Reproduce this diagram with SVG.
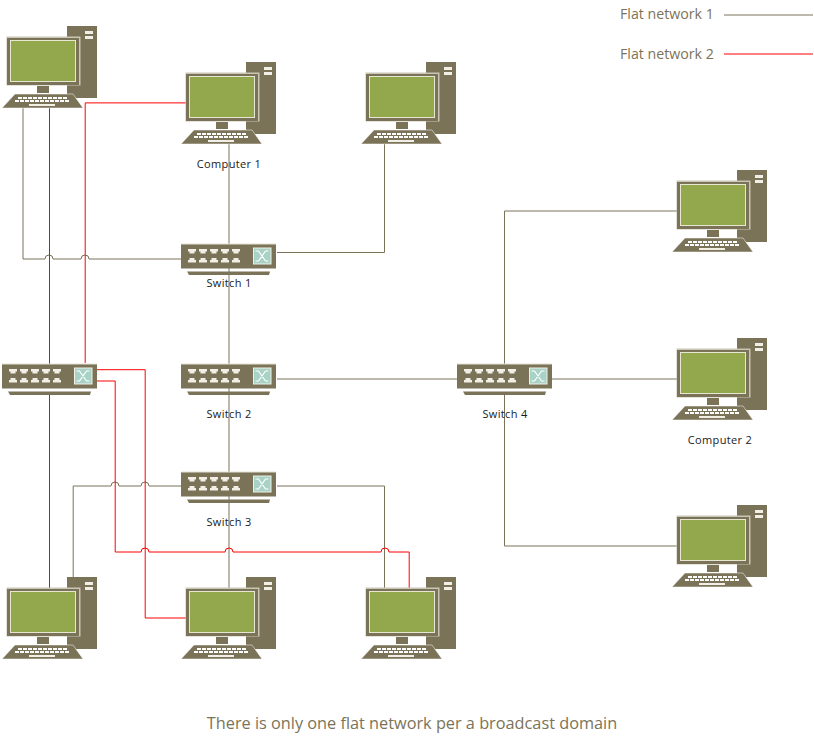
<svg xmlns="http://www.w3.org/2000/svg" xmlns:xlink="http://www.w3.org/1999/xlink" width="814" height="745" viewBox="0 0 814 745">
<style>
.g{fill:none;stroke:#7b7358;stroke-width:1}
.r{fill:none;stroke:#ff0000;stroke-width:1}
.b{fill:#7b7358}
.w{fill:#f2f0e6}
.lbl{font-family:"Open Sans","Noto Sans",sans-serif;font-size:11px;letter-spacing:.35px;fill:#1a1a1a;text-anchor:middle}
.leg{font-family:"Open Sans","Noto Sans",sans-serif;font-size:14.200px;fill:#7b7358}
.cap{font-family:"Open Sans","Noto Sans",sans-serif;font-size:16.300px;fill:#7b7358;text-anchor:middle}
</style>
<defs>
<g id="pc">
<rect class="b" x="67" y="26" width="30" height="72"/>
<rect class="w" x="85" y="31" width="8" height="3"/>
<rect class="w" x="85" y="36" width="8" height="3"/>
<rect x="6.500" y="36.500" width="74" height="49" fill="#c9c6b6"/>
<rect class="b" x="7" y="38" width="72" height="47"/>
<rect x="10.500" y="40.500" width="65" height="41" fill="#93a84c" stroke="#e6e6d2" stroke-width="1"/>
<rect class="b" x="37" y="86" width="12" height="7"/>
<path class="b" d="M15 94H73L83 108H2Z" stroke="#fff" stroke-width=".5"/>
<path d="M18 98h50M15 101h55" stroke="#fff" stroke-width="2" stroke-dasharray="4 1" fill="none"/>
<rect class="w" x="29" y="104" width="26" height="2"/>
</g>
<g id="port"><path class="w" d="M0 0H8V2.500H6.500V4.500H1.500V2.500H0Z"/></g>
<g id="sw">
<rect class="b" x="0" y="0" width="95" height="24.500"/>
<rect x="0" y="-.5" width="95" height="1" fill="#e4e1d4"/>
<path class="b" d="M6 27.500H89L88 31H8Z"/>
<use xlink:href="#port" x="7" y="5"/><use xlink:href="#port" x="18" y="5"/><use xlink:href="#port" x="29" y="5"/><use xlink:href="#port" x="40" y="5"/><use xlink:href="#port" x="51" y="5"/>
<g transform="translate(0 18.500) scale(1 -1)"><use xlink:href="#port" x="7" y="0"/><use xlink:href="#port" x="18" y="0"/><use xlink:href="#port" x="29" y="0"/><use xlink:href="#port" x="40" y="0"/><use xlink:href="#port" x="51" y="0"/></g>
<rect x="72.500" y="4" width="17.500" height="16" fill="#a8d2c6" stroke="#f2f0e6" stroke-width="1"/>
<path d="M74.500 7h3l7 10h3M74.500 17h3l7-10h3" fill="none" stroke="#fff" stroke-width="1.200"/>
</g>
</defs>
<g id="connectors">
<path class="g" d="M23 108V259H45a4 4 0 0 1 8 0H81a4 4 0 0 1 8 0H181"/>
<path class="g" d="M229 144V588"/>
<path class="g" d="M277 252.500H384.500V144"/>
<path class="g" d="M277 379H457"/>
<path class="g" d="M552 379H677"/>
<path class="g" d="M504.500 364V211H677"/>
<path class="g" d="M504.500 393V546H677"/>
<path class="g" d="M181 486H149a4 4 0 0 0 -8 0H119a4 4 0 0 0 -8 0H73.200V577"/>
<path class="g" d="M277 486H384.500V588"/>
<path class="r" d="M85.200 363V102.900H186"/>
<path class="r" d="M49.500 108V364M49.500 393V588"/>
<path class="r" d="M97 369.700H145.200V618H186"/>
<path class="r" d="M97 381H115.200V552H141a4 4 0 0 1 8 0H225a4 4 0 0 1 8 0H381a4 4 0 0 1 8 0H409.200V588"/>
</g>
<g id="pc-top-left"><use xlink:href="#pc"/></g>
<g id="computer-1"><use xlink:href="#pc" x="179" y="36"/><text class="lbl" x="229" y="168">Computer 1</text></g>
<g id="pc-top-mid"><use xlink:href="#pc" x="359" y="36"/></g>
<g id="pc-right-top"><use xlink:href="#pc" x="670" y="144"/></g>
<g id="computer-2"><use xlink:href="#pc" x="670" y="312"/><text class="lbl" x="720" y="444">Computer 2</text></g>
<g id="pc-right-bottom"><use xlink:href="#pc" x="670" y="479"/></g>
<g id="pc-bottom-left"><use xlink:href="#pc" y="551"/></g>
<g id="pc-bottom-mid"><use xlink:href="#pc" x="179" y="551"/></g>
<g id="pc-bottom-right"><use xlink:href="#pc" x="359" y="551"/></g>
<g id="switch-1"><use xlink:href="#sw" x="181" y="244"/><text class="lbl" x="229" y="287">Switch 1</text></g>
<g id="switch-left"><use xlink:href="#sw" x="2" y="364"/></g>
<g id="switch-2"><use xlink:href="#sw" x="181" y="364"/><text class="lbl" x="229" y="418">Switch 2</text></g>
<g id="switch-3"><use xlink:href="#sw" x="181" y="472"/><text class="lbl" x="229" y="526">Switch 3</text></g>
<g id="switch-4"><use xlink:href="#sw" x="457" y="364"/><text class="lbl" x="505" y="418">Switch 4</text></g>
<g id="legend">
<text class="leg" x="620" y="19">Flat network 1</text>
<path class="g" d="M724 15H813"/>
<text class="leg" x="620" y="59">Flat network 2</text>
<path class="r" d="M724 54H813"/>
</g>
<text class="cap" x="412" y="729">There is only one flat network per a broadcast domain</text>
</svg>
